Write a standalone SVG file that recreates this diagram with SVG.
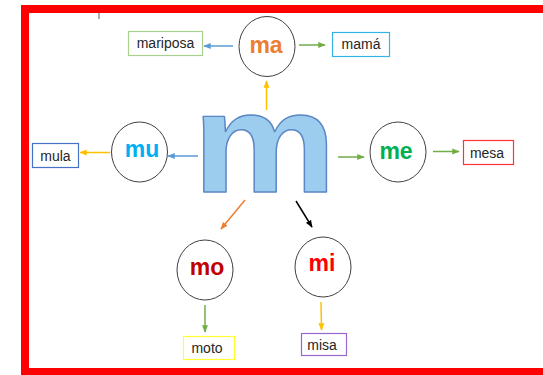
<svg xmlns="http://www.w3.org/2000/svg" width="543" height="375" viewBox="0 0 543 375">
<style>
.circ{fill:#fff;stroke:#404040;stroke-width:1}
.syl{font-family:"Liberation Sans",Arial,sans-serif;font-weight:bold;font-size:23px;text-anchor:middle}
.box{fill:#fff;stroke-width:1.2}
.word{font-family:"Liberation Sans",Arial,sans-serif;font-size:14px;fill:#262626;text-anchor:middle}
.conn{fill:none;stroke-width:1.5}
</style>
<defs>
<marker id="aBlue" viewBox="0 0 10 10" refX="9" refY="5" markerWidth="5" markerHeight="5" orient="auto"><path d="M0,1 L10,5 L0,9 Z" fill="#5B9BD5"/></marker>
<marker id="aGreen" viewBox="0 0 10 10" refX="9" refY="5" markerWidth="5" markerHeight="5" orient="auto"><path d="M0,1 L10,5 L0,9 Z" fill="#70AD47"/></marker>
<marker id="aYellow" viewBox="0 0 10 10" refX="9" refY="5" markerWidth="5" markerHeight="5" orient="auto"><path d="M0,1 L10,5 L0,9 Z" fill="#FFC000"/></marker>
<marker id="aOrange" viewBox="0 0 10 10" refX="9" refY="5" markerWidth="5" markerHeight="5" orient="auto"><path d="M0,1 L10,5 L0,9 Z" fill="#ED7D31"/></marker>
<marker id="aBlack" viewBox="0 0 10 10" refX="9" refY="5" markerWidth="5" markerHeight="5" orient="auto"><path d="M0,1 L10,5 L0,9 Z" fill="#000"/></marker>
</defs>
<rect x="0" y="0" width="543" height="375" fill="#fff"/>
<rect x="25" y="9" width="522" height="363" fill="none" stroke="#FF0000" stroke-width="8"/>
<line x1="99" y1="13" x2="99" y2="19" stroke="#333" stroke-width="0.8"/>

<g id="connectors">
<line class="conn" x1="266.5" y1="110" x2="266.5" y2="81" stroke="#FFC000" marker-end="url(#aYellow)"/>
<line class="conn" x1="233" y1="46" x2="204" y2="46" stroke="#5B9BD5" marker-end="url(#aBlue)"/>
<line class="conn" x1="299" y1="45" x2="325" y2="45" stroke="#70AD47" marker-end="url(#aGreen)"/>
<line class="conn" x1="198" y1="156" x2="168" y2="156" stroke="#5B9BD5" marker-end="url(#aBlue)"/>
<line class="conn" x1="110" y1="152.5" x2="80" y2="152.5" stroke="#FFC000" marker-end="url(#aYellow)"/>
<line class="conn" x1="338" y1="157" x2="364" y2="157" stroke="#70AD47" marker-end="url(#aGreen)"/>
<line class="conn" x1="433" y1="151.5" x2="459" y2="151.5" stroke="#70AD47" marker-end="url(#aGreen)"/>
<line class="conn" x1="245" y1="200" x2="221" y2="229" stroke="#ED7D31" marker-end="url(#aOrange)"/>
<line class="conn" x1="296" y1="201" x2="312" y2="227" stroke="#000" marker-end="url(#aBlack)"/>
<line class="conn" x1="205" y1="305" x2="205" y2="332" stroke="#70AD47" marker-end="url(#aGreen)"/>
<line class="conn" x1="321" y1="302" x2="321.5" y2="330" stroke="#FFC000" marker-end="url(#aYellow)"/>
</g>

<g id="m-big">
<text transform="translate(192.6,192) scale(1.14,1)" x="0" y="0" font-family="'Liberation Sans',Arial,sans-serif" font-weight="bold" font-style="normal" font-size="142" fill="#9DCDEE" stroke="#5B87C5" stroke-width="1.3" stroke-linejoin="round">m</text>
</g>

<g id="ma">
<ellipse class="circ" cx="267" cy="46.5" rx="28" ry="30"/>
<text class="syl" x="266" y="53" fill="#ED7D31">ma</text>
</g>
<g id="mariposa">
<rect class="box" x="128.5" y="31.5" width="74" height="24" stroke="#A9D18E"/>
<text class="word" x="165.5" y="48">mariposa</text>
</g>
<g id="mama">
<rect class="box" x="332.5" y="32.5" width="57" height="24" stroke="#33B5E8"/>
<text class="word" x="361" y="49">mamá</text>
</g>

<g id="mu">
<ellipse class="circ" cx="139.5" cy="152" rx="28" ry="30"/>
<text class="syl" x="142" y="157" fill="#00B0F0">mu</text>
</g>
<g id="mula">
<rect class="box" x="32.5" y="143.5" width="46" height="24" stroke="#4472C4"/>
<text class="word" x="55.5" y="160.5">mula</text>
</g>

<g id="me">
<ellipse class="circ" cx="398" cy="152" rx="28" ry="30"/>
<text class="syl" x="396" y="159" fill="#00B050">me</text>
</g>
<g id="mesa">
<rect class="box" x="463.5" y="140.5" width="50" height="24" stroke="#FF3333"/>
<text class="word" x="487" y="157.5">mesa</text>
</g>

<g id="mo">
<ellipse class="circ" cx="205" cy="270" rx="28" ry="30"/>
<text class="syl" x="207" y="275" fill="#C00000">mo</text>
</g>
<g id="moto">
<rect class="box" x="183.5" y="336.5" width="51" height="23" stroke="#FFFF33"/>
<text class="word" x="207" y="353">moto</text>
</g>

<g id="mi">
<ellipse class="circ" cx="323" cy="267" rx="28" ry="30"/>
<text class="syl" x="322" y="271" fill="#FF0000">mi</text>
</g>
<g id="misa">
<rect class="box" x="301.5" y="333.5" width="45" height="22" stroke="#9966CC"/>
<text class="word" x="322" y="350">misa</text>
</g>
</svg>
